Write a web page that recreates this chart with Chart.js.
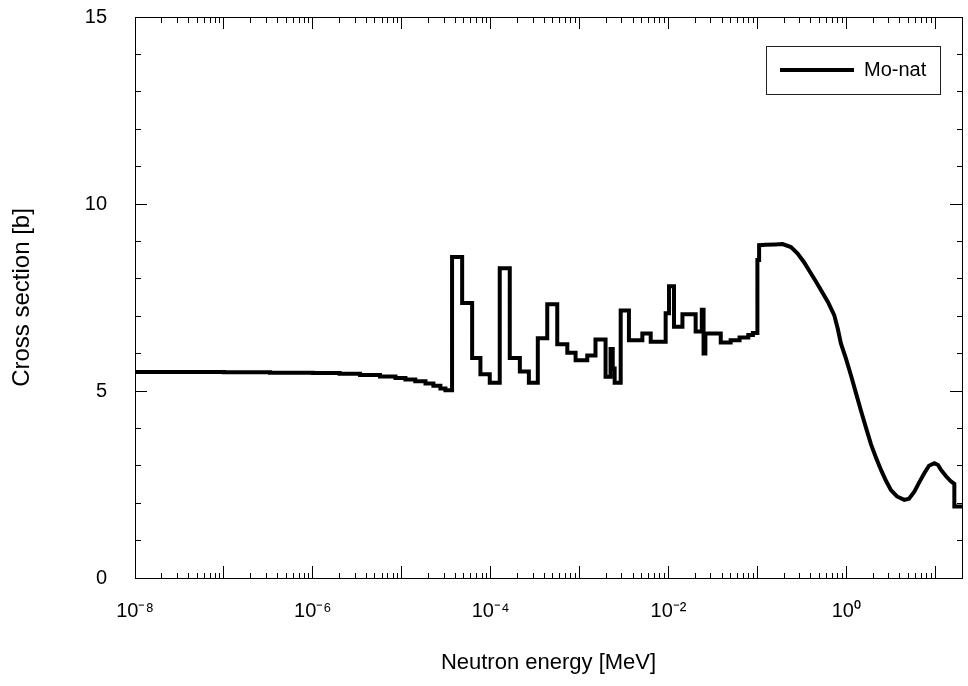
<!DOCTYPE html>
<html><head><meta charset="utf-8">
<script src="https://cdn.jsdelivr.net/npm/chart.js@4/dist/chart.umd.min.js"></script>
<style>html,body{margin:0;padding:0;background:#fff}</style>
</head><body>
<canvas id="c" width="968" height="686"></canvas>
<script>
// Group-wise (histogram) part: edges in MeV, value applies from edge[i] to edge[i+1]
const stepEdges = [1e-8, 1e-7, 3.3e-7, 1e-6, 2.0e-6, 3.4e-6, 5.7e-6, 8.5e-6, 1.1e-5, 1.42e-5,
  1.85e-5, 2.27e-5, 2.72e-5, 3.1e-5, 3.68e-5, 4.78e-5, 6.19e-5, 7.67e-5, 9.77e-5, 1.265e-4,
  1.64e-4, 2.13e-4, 2.69e-4, 3.39e-4, 4.33e-4, 5.61e-4, 7.28e-4, 9.02e-4, 1.22e-3, 1.51e-3,
  1.96e-3, 2.23e-3, 2.36e-3, 2.48e-3, 2.9e-3, 3.59e-3, 5.08e-3, 6.31e-3, 9.29e-3, 1.014e-2,
  1.153e-2, 1.435e-2, 2.02e-2, 2.37e-2, 2.48e-2, 2.6e-2, 3.87e-2, 5.0e-2, 6.3e-2, 7.9e-2,
  8.9e-2, 0.1, 0.1045];
const stepValues = [5.51, 5.50, 5.49, 5.48, 5.46, 5.43, 5.39, 5.35, 5.31, 5.26,
  5.20, 5.14, 5.07, 5.02, 8.58, 7.35, 5.88, 5.45, 5.22, 8.28,
  5.88, 5.52, 5.22, 6.41, 7.32, 6.25, 6.02, 5.82, 5.95, 6.38,
  5.38, 6.12, 5.60, 5.22, 7.15, 6.36, 6.54, 6.32, 7.08, 7.80,
  6.72, 7.05, 6.59, 7.17, 6.00, 6.54, 6.30, 6.36, 6.43, 6.50,
  6.55, 8.50];
// Fine-group (smooth looking) part above 0.1 MeV
const smoothEnergies = [0.1045, 0.1245, 0.158, 0.192, 0.238, 0.282, 0.333, 0.399, 0.455, 0.518,
  0.621, 0.731, 0.804, 0.869, 0.989, 1.127, 1.282, 1.459, 1.663, 1.892,
  2.153, 2.455, 2.793, 3.177, 3.715, 4.487, 5.07, 5.82, 6.58, 7.53,
  8.51, 9.77, 10.76, 11.61, 13.24, 15.07, 16.4, 16.4, 20];
const smoothValues = [8.90, 8.91, 8.92, 8.93, 8.85, 8.68, 8.45, 8.15, 7.93, 7.70,
  7.38, 7.03, 6.65, 6.27, 5.87, 5.42, 4.95, 4.48, 4.02, 3.58,
  3.22, 2.89, 2.60, 2.35, 2.18, 2.09, 2.12, 2.31, 2.55, 2.80,
  3.00, 3.07, 3.02, 2.89, 2.72, 2.58, 2.52, 1.91, 1.91];

const xTickValues = [1e-8, 1e-6, 1e-4, 1e-2, 1];
const xTickLabels = ['10\u207B\u2078', '10\u207B\u2076', '10\u207B\u2074', '10\u207B\u00B2', '10\u2070'];
const yTickValues = [0, 5, 10, 15];
const yTickLabels = ['0', '5', '10', '15'];
const seriesName = 'Mo-nat';
const xTitle = 'Neutron energy [MeV]';
const yTitle = 'Cross section [b]';

const points = [];
for (let i = 0; i < stepValues.length; i++) {
  points.push({x: stepEdges[i], y: stepValues[i]});
  points.push({x: stepEdges[i + 1], y: stepValues[i]});
}
for (let i = 0; i < smoothEnergies.length; i++) points.push({x: smoothEnergies[i], y: smoothValues[i]});

Chart.defaults.font.family = "'Liberation Sans', Arial, Helvetica, sans-serif";
Chart.defaults.color = '#000';

const isDecade = v => Math.abs(Math.log10(v) - Math.round(Math.log10(v))) < 1e-6;
const isIntMultiple = v => { const e = Math.floor(Math.log10(v) + 1e-9); const r = v / Math.pow(10, e); return Math.abs(r - Math.round(r)) < 1e-6; };
const keepLogTicks = s => { s.ticks = s.ticks.filter(t => isIntMultiple(t.value)); };
const outerDash = [6, 100];           // dash starting at the border
const innerDash = [0, 6, 6, 100];     // line drawn from inside toward border
const MAJ = 12;
const noPad = s => { s.paddingLeft = 0; s.paddingRight = 0; s.paddingTop = 0; s.paddingBottom = 0; };

function gridOpts(isMajorFn, dash) {
  return {
    display: true, drawOnChartArea: false, drawTicks: true, tickLength: -MAJ,
    tickColor: '#000', tickWidth: 1,
    tickBorderDash: ctx => (ctx.tick && isMajorFn(ctx.tick.value)) ? [] : dash
  };
}
const yMajor = v => Math.round(v) % 5 === 0;

const legendFrame = {
  id: 'legendFrame',
  afterLayout(chart) {
    const lg = chart.legend, ca = chart.chartArea;
    const w = lg.width, h = lg.height;
    lg.left = ca.right - 192; lg.top = ca.top + 33;
    lg.right = lg.left + w; lg.bottom = lg.top + h;
  },
  afterDraw(chart) {
    const hb = chart.legend.legendHitBoxes && chart.legend.legendHitBoxes[0];
    if (!hb) return;
    const ctx = chart.ctx;
    const cy = hb.top + hb.height / 2;
    ctx.save();
    ctx.strokeStyle = '#222'; ctx.lineWidth = 1;
    ctx.strokeRect(Math.round(hb.left - 14) + 0.5, Math.round(cy - 24) + 0.5,
      Math.round(hb.width + 28), 48);
    ctx.restore();
  }
};

new Chart(document.getElementById('c'), {
  type: 'line',
  data: {
    datasets: [{
      label: seriesName, data: points,
      borderColor: '#000', backgroundColor: '#000', borderWidth: 4,
      pointRadius: 0, tension: 0, fill: false,
      borderJoinStyle: 'miter', borderCapStyle: 'butt'
    }]
  },
  options: {
    responsive: false, animation: false, devicePixelRatio: 1,
    layout: {padding: 0},
    plugins: {
      tooltip: {enabled: false},
      legend: {
        display: true, position: 'chartArea', align: 'start',
        labels: {
          boxWidth: 74, boxHeight: 4, padding: 10,
          font: {size: 20}, color: '#000',
          generateLabels: chart => [{
            text: chart.data.datasets[0].label, fillStyle: '#000', strokeStyle: '#000',
            lineWidth: 0, hidden: false, datasetIndex: 0
          }]
        }
      }
    },
    scales: {
      x: {
        type: 'logarithmic', position: 'bottom', min: 1e-8, max: 20,
        afterBuildTicks: keepLogTicks,
        afterFit: s => { s.height = 108; noPad(s); },
        ticks: {
          autoSkip: false, maxRotation: 0, minRotation: 0, padding: 33,
          font: {size: 20}, color: '#000',
          callback: v => { const i = xTickValues.findIndex(t => Math.abs(Math.log10(t) - Math.log10(v)) < 1e-6); return i >= 0 ? xTickLabels[i] : ''; }
        },
        grid: gridOpts(isDecade, outerDash),
        border: {display: true, color: '#000', width: 1},
        title: {display: true, text: xTitle, font: {size: 22}, color: '#000', padding: {top: 0, bottom: 10}}
      },
      xTop: {
        type: 'logarithmic', position: 'top', min: 1e-8, max: 20,
        afterBuildTicks: keepLogTicks,
        afterFit: s => { s.height = 17; noPad(s); },
        ticks: {display: false, autoSkip: false},
        grid: gridOpts(isDecade, innerDash),
        border: {display: true, color: '#000', width: 1}
      },
      y: {
        type: 'linear', position: 'left', min: 0, max: 15,
        afterFit: s => { s.width = 135; noPad(s); },
        ticks: {
          stepSize: 1, autoSkip: false, padding: 40, font: {size: 20}, color: '#000',
          callback: v => { const i = yTickValues.indexOf(Math.round(v)); return (i >= 0 && Math.abs(v - yTickValues[i]) < 1e-9) ? yTickLabels[i] : ''; }
        },
        grid: gridOpts(yMajor, innerDash),
        border: {display: true, color: '#000', width: 1},
        title: {display: true, text: yTitle, font: {size: 24}, color: '#000', padding: {top: 8, bottom: 0}}
      },
      yRight: {
        type: 'linear', position: 'right', min: 0, max: 15,
        afterFit: s => { s.width = 6; noPad(s); },
        ticks: {display: false, stepSize: 1, autoSkip: false},
        grid: gridOpts(yMajor, outerDash),
        border: {display: true, color: '#000', width: 1}
      }
    }
  },
  plugins: [legendFrame]
});
</script>
</body></html>
